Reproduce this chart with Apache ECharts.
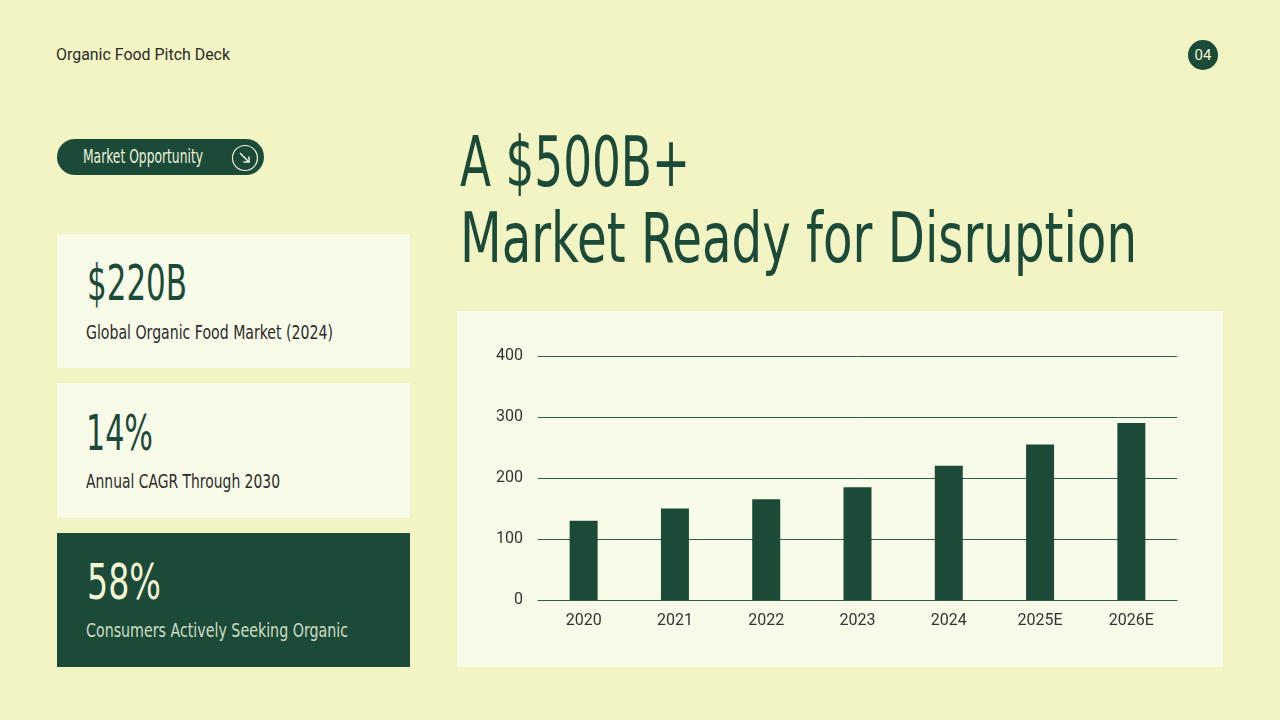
<!DOCTYPE html>
<html>
<head>
<meta charset="utf-8">
<script src="https://cdn.jsdelivr.net/npm/echarts@6/dist/echarts.min.js"></script>
<style>
  html, body { margin:0; padding:0; }
  body { width:1280px; height:720px; background:#f2f4c4; position:relative; overflow:hidden; font-family: Roboto, "Noto Sans", sans-serif; }
  .abs { position:absolute; }
  .cond { font-family: "Liberation Sans Narrow", "DejaVu Sans Condensed", Roboto, sans-serif; }
  .fit { display:inline-block; white-space:nowrap; transform-origin:0 0; line-height:1; }
  .card { position:absolute; left:57px; width:353px; background:#f9fbe9; }
  .card.dark { background:#1b4a38; }
  #chart { position:absolute; left:457px; top:311px; width:766px; height:356px; background:#f9fbe9; }
</style>
</head>
<body>
  <div class="abs fit" data-w="174" style="left:56px; top:47px; font-size:16px; color:#2b2b2b;">Organic Food Pitch Deck</div>

  <div class="abs" style="left:1188px; top:40px; width:30px; height:30px; border-radius:50%; background:#1b4a38; color:#f2f4d6; font-size:15px; line-height:30px; text-align:center;">04</div>

  <div class="abs" style="left:57px; top:139px; width:207px; height:36px; border-radius:18px; background:#1b4a38;"></div>
  <div class="abs fit cond" data-w="120" style="left:83px; top:146px; font-size:20px; color:#eef2dc;">Market Opportunity</div>
  <svg class="abs" style="left:231px; top:144px;" width="28" height="28" viewBox="0 0 28 28">
    <circle cx="14" cy="14" r="12.5" fill="none" stroke="#eef2dc" stroke-width="1.2"/>
    <line x1="9" y1="9" x2="18" y2="18" stroke="#eef2dc" stroke-width="1.5"/>
    <polyline points="18,12.5 18,18 12.5,18" fill="none" stroke="#eef2dc" stroke-width="1.5"/>
  </svg>

  <div class="abs fit cond" data-w="230" style="left:460px; top:127px; font-size:70px; color:#1b4a38;">A $500B+</div>
  <div class="abs fit cond" data-w="677" style="left:460px; top:203px; font-size:70px; color:#1b4a38;">Market Ready for Disruption</div>

  <div class="card" style="top:234px; height:134px;"></div>
  <div class="card" style="top:383px; height:135px;"></div>
  <div class="card dark" style="top:533px; height:134px;"></div>

  <div class="abs fit cond" data-w="100" style="left:87px; top:258px; font-size:50px; color:#1b4a38;">$220B</div>
  <div class="abs fit cond" data-w="247" style="left:86px; top:322px; font-size:20px; color:#2b2b2b;">Global Organic Food Market (2024)</div>

  <div class="abs fit cond" data-w="67" style="left:86px; top:408px; font-size:50px; color:#1b4a38;">14%</div>
  <div class="abs fit cond" data-w="194" style="left:86px; top:471px; font-size:20px; color:#2b2b2b;">Annual CAGR Through 2030</div>

  <div class="abs fit cond" data-w="74" style="left:87px; top:557px; font-size:50px; color:#f3f5d4;">58%</div>
  <div class="abs fit cond" data-w="262" style="left:86px; top:620px; font-size:20px; color:#cfdcc4;">Consumers Actively Seeking Organic</div>

  <div id="chart"></div>

<script>
  // ---- data ----
  var categories = ['2020', '2021', '2022', '2023', '2024', '2025E', '2026E'];
  var marketValues = [130, 150, 165, 185, 220, 255, 290];
  var yTicks = [0, 100, 200, 300, 400];

  function fitAll() {
    document.querySelectorAll('.fit').forEach(function (el) {
      el.style.transform = 'none';
      var target = parseFloat(el.getAttribute('data-w'));
      var w = el.getBoundingClientRect().width;
      if (w > 0 && target) el.style.transform = 'scaleX(' + (target / w) + ')';
    });
  }
  fitAll();
  if (document.fonts && document.fonts.ready) document.fonts.ready.then(fitAll);

  var lineColor = '#2e5b45';
  var chart = echarts.init(document.getElementById('chart'));
  chart.setOption({
    animation: false,
    backgroundColor: '#f9fbe9',
    grid: { left: 81, right: 46, top: 45, bottom: 67, containLabel: false },
    xAxis: {
      type: 'category',
      data: categories,
      axisLine: { lineStyle: { color: lineColor, width: 1 } },
      axisTick: { show: false },
      axisLabel: { color: '#333333', fontSize: 16, fontFamily: 'Roboto', margin: 13 }
    },
    yAxis: {
      type: 'value',
      min: yTicks[0],
      max: yTicks[yTicks.length - 1],
      interval: yTicks[1] - yTicks[0],
      axisLine: { show: false },
      axisTick: { show: false },
      splitLine: { lineStyle: { color: lineColor, width: 1 } },
      axisLabel: { color: '#333333', fontSize: 16, fontFamily: 'Roboto', margin: 15 }
    },
    series: [{
      type: 'bar',
      data: marketValues,
      barWidth: 28,
      itemStyle: { color: '#1b4a38' }
    }]
  });
</script>
</body>
</html>
